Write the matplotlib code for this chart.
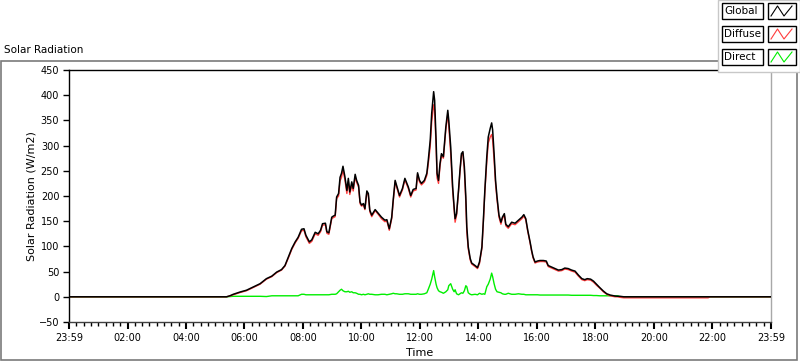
import matplotlib
matplotlib.use("Agg")
import matplotlib.pyplot as plt
from matplotlib.patches import Rectangle
from matplotlib.lines import Line2D
from matplotlib.ticker import MultipleLocator

plt.rcParams["font.family"] = ["DejaVu Sans"]
plt.rcParams["font.size"] = 7

# time of day in minutes since midnight
minutes = [
    0, 323, 330, 337, 351, 364, 378, 392, 405, 416, 426, 436, 443, 450, 457,
    464, 470, 477, 482, 486, 493, 498, 505, 511, 516, 520, 526, 529, 533, 539,
    542, 546, 549, 553, 556, 559, 562, 566, 570, 573, 576, 580, 583, 587, 590,
    594, 597, 600, 604, 607, 611, 614, 617, 621, 628, 634, 641, 648, 652, 657,
    662, 665, 669, 672, 678, 684, 689, 696, 701, 706, 712, 715, 719, 723, 729,
    734, 737, 741, 744, 748, 750, 753, 755, 758, 761, 764, 768, 773, 777, 779,
    783, 787, 790, 792, 795, 799, 802, 805, 808, 811, 814, 816, 819, 823, 826,
    833, 838, 842, 847, 850, 853, 857, 860, 864, 867, 869, 872, 875, 878, 882,
    886, 889, 893, 896, 901, 908, 915, 922, 929, 933, 937, 941, 946, 949, 952,
    956, 961, 966, 973, 979, 983, 990, 997, 1004, 1011, 1017, 1024, 1031, 1038,
    1045, 1052, 1058, 1063, 1070, 1076, 1082, 1089, 1096, 1103, 1110, 1120,
    1126, 1130, 1138, 1311, 1315, 1440,
]

global_rad = [
    0, 0, 2, 5, 9.5, 13, 19.5, 26, 36, 41, 49, 54, 62, 79, 96,
    109, 118, 134, 135, 122, 109, 113, 128, 125, 132, 145, 146, 129, 127, 158,
    160, 162, 198, 205, 237, 245, 259, 238, 211, 235, 208, 228, 215, 243, 231,
    221, 188, 182, 185, 175, 210, 205, 172, 162, 173, 166, 158, 152, 153, 135,
    158, 192, 231, 221, 201, 215, 235, 218, 201, 213, 215, 246, 231, 225, 231,
    245, 271, 311, 364, 407, 390, 311, 245, 231, 264, 284, 278, 337, 370, 350,
    297, 218, 178, 155, 165, 211, 251, 284, 288, 258, 198, 139, 99, 76, 67,
    62, 58, 69, 99, 152, 211, 278, 317, 334, 345, 331, 284, 231, 198, 162,
    148, 158, 165, 144, 139, 148, 146, 152, 158, 163, 155, 132, 108, 92, 79,
    69, 71, 72, 72, 71, 62, 59, 56, 53, 54, 57, 56, 53, 51,
    43, 36, 34, 36, 35, 31, 25, 18, 11.5, 6, 3.5, 1.5,
    1, 1, 0, 0, 0, 0,
]

diffuse_rad = [
    0, 0, 1.5, 4, 8.5, 12, 18.5, 25, 35, 40, 48, 53, 61, 77, 94,
    107, 116, 131, 132, 119, 106, 110, 125, 122, 129, 142, 143, 126, 124, 155,
    157, 159, 195, 200, 230, 237, 252, 232, 205, 229, 203, 222, 210, 238, 227,
    218, 185, 180, 182, 173, 207, 202, 169, 159, 171, 164, 155, 149, 151, 132,
    155, 188, 228, 218, 198, 212, 232, 215, 198, 210, 212, 243, 228, 222, 228,
    241, 264, 299, 347, 381, 370, 299, 236, 225, 259, 280, 275, 332, 363, 339,
    284, 211, 173, 148, 162, 209, 248, 280, 285, 252, 187, 129, 95, 73, 65,
    60, 56, 66, 96, 149, 208, 268, 305, 317, 322, 311, 271, 224, 193, 158,
    144, 155, 162, 141, 136, 145, 143, 149, 155, 160, 153, 130, 106, 90, 77,
    67, 69, 70, 70, 69, 60, 57, 54, 51, 52, 55, 54, 51, 49,
    41, 34, 32, 34, 33, 29, 23, 17, 10, 5, 2, 0,
    0, -1, -2, -2, 0, 0,
]

direct_rad = [
    0, 0, 0.5, 1, 1, 1, 1, 1, 0.5, 2, 2, 2, 2, 2, 2,
    2, 2, 5, 5, 4, 4, 4, 4, 4, 4, 4, 4, 4, 4, 5,
    5, 5, 6, 10, 13, 15, 12, 10, 10, 11, 9, 10, 8, 8, 7,
    5, 5, 4, 5, 4, 5, 6, 5, 5, 4, 4, 5, 5, 4, 5,
    6, 7, 6, 6, 5, 5, 6, 6, 5, 5, 5, 6, 5, 5, 6,
    8, 15, 25, 35, 52, 40, 25, 18, 12, 10, 9, 7, 10, 14, 22,
    26, 15, 10, 14, 6, 4, 6, 8, 7, 12, 22, 20, 8, 5, 4,
    5, 4, 7, 5, 6, 5, 20, 25, 35, 47, 40, 26, 15, 10, 9,
    8, 6, 5, 5, 7, 5, 5, 6, 5, 5, 4, 4, 4, 4, 4,
    4, 4, 3.5, 3.5, 3.5, 3.5, 3.5, 3.5, 3.5, 3.5, 3.5, 3.5, 3, 3,
    3, 3, 3, 3, 3, 2.5, 2.5, 2, 2, 2, 2, 2,
    2, 0, 0, 0, 0, 0,
]

series_names = ["Global", "Diffuse", "Direct"]
series_colors = ["#000000", "#ff3c3c", "#00ee00"]
tick_minutes = list(range(0, 1441, 120))
tick_labels = ["23:59", "02:00", "04:00", "06:00", "08:00", "10:00", "12:00",
               "14:00", "16:00", "18:00", "20:00", "22:00", "23:59"]

W, H = 800, 361


def fx(px):
    return px / W


def fy(py):
    return 1 - py / H


fig = plt.figure(figsize=(W / 100, H / 100), dpi=100)
fig.patch.set_facecolor("white")

# outer panel frame
fig.patches.append(Rectangle((fx(0.5), fy(359.5)), fx(797) - fx(0.5), fy(61) - fy(359.5),
                             transform=fig.transFigure, fill=False,
                             edgecolor="#7a7a7a", linewidth=1.2, zorder=0))
fig.text(fx(4), fy(50), "Solar Radiation", fontsize=7.5, va="center", ha="left")

ax = fig.add_axes([fx(69), fy(322), fx(771) - fx(69), fy(70) - fy(322)])
ax.plot(minutes, direct_rad, color=series_colors[2], lw=1.0, zorder=1)
ax.plot(minutes, diffuse_rad, color=series_colors[1], lw=1.0, zorder=2)
ax.plot(minutes, global_rad, color=series_colors[0], lw=1.1, zorder=3)

ax.set_xlim(0, 1440)
ax.set_ylim(-50, 450)
ax.set_xticks(tick_minutes)
ax.set_xticklabels(tick_labels)
ax.xaxis.set_minor_locator(MultipleLocator(15))
ax.yaxis.set_major_locator(MultipleLocator(50))
ax.tick_params(axis="x", which="major", length=5, width=1.5, pad=3, labelsize=7)
ax.tick_params(axis="x", which="minor", length=3, width=1)
ax.tick_params(axis="y", which="major", length=4, width=1, pad=3, labelsize=7)

ax.spines["top"].set_color("#000000")
ax.spines["left"].set_color("#000000")
ax.spines["bottom"].set_color("#404040")
ax.spines["right"].set_color("#a8a8a8")
for s in ax.spines.values():
    s.set_linewidth(1.0)

ax.set_ylabel("Solar Radiation (W/m2)", fontsize=8)
ax.yaxis.set_label_coords(-0.046, 0.5)
ax.set_xlabel("Time", fontsize=8)
ax.xaxis.set_label_coords(0.499, -0.105)

# legend panel (top right)
fig.patches.append(Rectangle((fx(718), fy(72)), fx(800) - fx(718), fy(0) - fy(72),
                             transform=fig.transFigure, facecolor="white",
                             edgecolor="#c8c8c8", linewidth=1.0, zorder=5))
row_centers = [11, 34, 57]
for name, color, cy in zip(series_names, series_colors, row_centers):
    fig.patches.append(Rectangle((fx(721.5), fy(cy + 8)), fx(763) - fx(721.5), fy(cy - 8) - fy(cy + 8),
                                 transform=fig.transFigure, facecolor="white",
                                 edgecolor="black", linewidth=1.0, zorder=6))
    fig.text(fx(724), fy(cy), name, fontsize=7.5, va="center", ha="left", zorder=7)
    fig.patches.append(Rectangle((fx(768), fy(cy + 8)), fx(796) - fx(768), fy(cy - 8) - fy(cy + 8),
                                 transform=fig.transFigure, facecolor="white",
                                 edgecolor="black", linewidth=1.0, zorder=6))
    zx = [fx(771), fx(777.5), fx(784), fx(792)]
    zy = [fy(cy + 5), fy(cy - 5), fy(cy + 5), fy(cy - 5)]
    fig.lines.append(Line2D(zx, zy, transform=fig.transFigure, color=color,
                            linewidth=0.8, zorder=7))

fig.savefig("out.png", dpi=100)
